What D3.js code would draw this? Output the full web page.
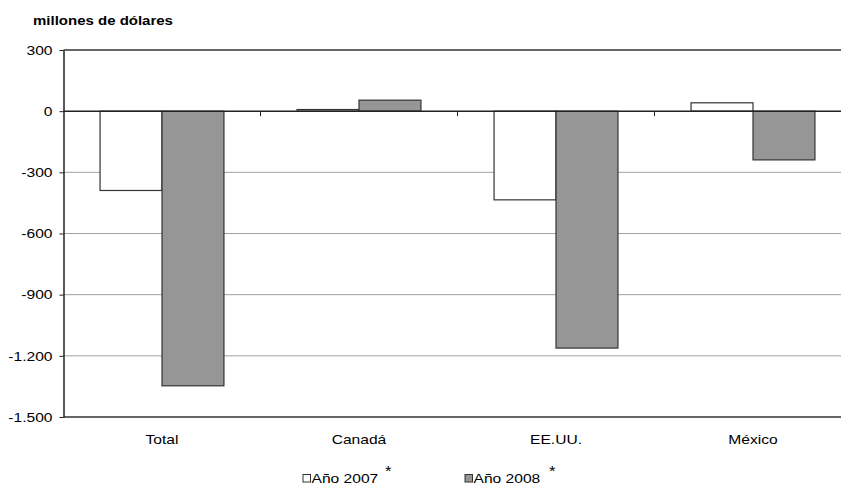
<!DOCTYPE html>
<html>
<head>
<meta charset="utf-8">
<script src="https://cdn.jsdelivr.net/npm/d3@7"></script>
<style>
  body { margin: 0; background: #fff; }
  text { font-family: "Liberation Sans", Arial, sans-serif; fill: #000; }
</style>
</head>
<body>
<svg id="chart" width="841" height="486"></svg>
<script>
// data
const categories = ['Total', 'Canadá', 'EE.UU.', 'México'];
const seriesNames = ['Año 2007', 'Año 2008'];
const values2007 = [-389, 8, -435, 41];
const values2008 = [-1347, 54, -1162, -239];
const yTicks = [300, 0, -300, -600, -900, -1200, -1500];
const colors = ['#ffffff', '#969696'];

(function() {
  const svg = d3.select('#chart');
  const plotLeft = 63.5, plotRight = 851.5, plotTop = 50, plotBottom = 417;
  const sx = 1.2; // text in the original looks stretched sideways

  const x = d3.scaleBand().domain(categories).range([plotLeft, plotRight]);
  const xInner = d3.scaleBand().domain(seriesNames).range([0, x.bandwidth()]).paddingOuter(0.59);
  const y = d3.scaleLinear().domain([-1500, 300]).range([plotBottom, plotTop]);

  // spanish style: dot as thousands separator, plain hyphen for minus
  const fmt = d => d3.format(',')(d).replace(/,/g, '.').replace('\u2212', '-');

  // helper for stretched text
  const label = (sel, tx, ty) => sel.attr('transform', (d, i) =>
    `translate(${typeof tx === 'function' ? tx(d, i) : tx},${typeof ty === 'function' ? ty(d, i) : ty}) scale(${sx},1)`);

  // gridlines
  svg.append('g').selectAll('line')
    .data(yTicks.filter(d => d !== 0 && d !== 300 && d !== -1500))
    .enter().append('line')
      .attr('x1', plotLeft).attr('x2', plotRight)
      .attr('y1', d => y(d)).attr('y2', d => y(d))
      .attr('stroke', '#a0a0a0').attr('stroke-width', 1);

  // top and bottom lines
  [300, -1500].forEach(v => {
    svg.append('line')
      .attr('x1', plotLeft).attr('x2', plotRight)
      .attr('y1', y(v)).attr('y2', y(v))
      .attr('stroke', '#333').attr('stroke-width', 1.5);
  });

  // bars
  const rows = categories.map((c, i) => ({ cat: c, vals: [values2007[i], values2008[i]] }));
  const grp = svg.append('g').selectAll('g')
    .data(rows)
    .enter().append('g')
      .attr('transform', d => `translate(${x(d.cat)},0)`);

  grp.selectAll('rect')
    .data(d => d.vals.map((v, i) => ({ v, s: seriesNames[i], i })))
    .enter().append('rect')
      .attr('x', d => xInner(d.s))
      .attr('width', xInner.bandwidth())
      .attr('y', d => y(Math.max(0, d.v)))
      .attr('height', d => Math.abs(y(d.v) - y(0)))
      .attr('fill', d => colors[d.i])
      .attr('stroke', '#333').attr('stroke-width', 1.2);

  // zero line with category ticks
  svg.append('line')
    .attr('x1', plotLeft).attr('x2', plotRight)
    .attr('y1', y(0)).attr('y2', y(0))
    .attr('stroke', '#222').attr('stroke-width', 1.5);
  svg.append('g').selectAll('line')
    .data(categories.slice(1))
    .enter().append('line')
      .attr('x1', d => x(d)).attr('x2', d => x(d))
      .attr('y1', y(0)).attr('y2', y(0) + 5)
      .attr('stroke', '#222');

  // y axis
  const yAxis = svg.append('g')
    .attr('transform', `translate(${plotLeft},0)`)
    .call(d3.axisLeft(y).tickValues(yTicks).tickSize(4).tickSizeOuter(0).tickFormat(fmt));
  yAxis.select('.domain').attr('stroke', '#222').attr('stroke-width', 1.5);
  yAxis.selectAll('.tick line').attr('stroke', '#222');
  yAxis.selectAll('text')
    .attr('font-size', 13).attr('x', -11 / sx)
    .attr('transform', `scale(${sx},1)`)
    .style('font-family', '"Liberation Sans", Arial, sans-serif');

  // category labels
  svg.append('g').selectAll('text')
    .data(categories)
    .enter().append('text')
      .call(label, d => x(d) + x.bandwidth() / 2, 444)
      .attr('text-anchor', 'middle')
      .attr('font-size', 13)
      .text(d => d);

  // title
  svg.append('text')
    .call(label, 33, 25)
    .attr('font-size', 12.5).attr('font-weight', 'bold')
    .text('millones de dólares');

  // legend
  const legendX = [303, 465];
  const leg = svg.append('g').selectAll('g')
    .data(seriesNames)
    .enter().append('g')
      .attr('transform', (d, i) => `translate(${legendX[i]},0)`);
  leg.append('rect')
    .attr('x', 0).attr('y', 474.5).attr('width', 7.5).attr('height', 7.5)
    .attr('fill', (d, i) => colors[i]).attr('stroke', '#333').attr('stroke-width', 1);
  leg.append('text')
    .call(label, 8.5, 483)
    .attr('font-size', 13)
    .text(d => d);
  leg.append('text')
    .call(label, (d, i) => i === 0 ? 82 : 84, 476)
    .attr('font-size', 14)
    .text('*');
})();
</script>
</body>
</html>
